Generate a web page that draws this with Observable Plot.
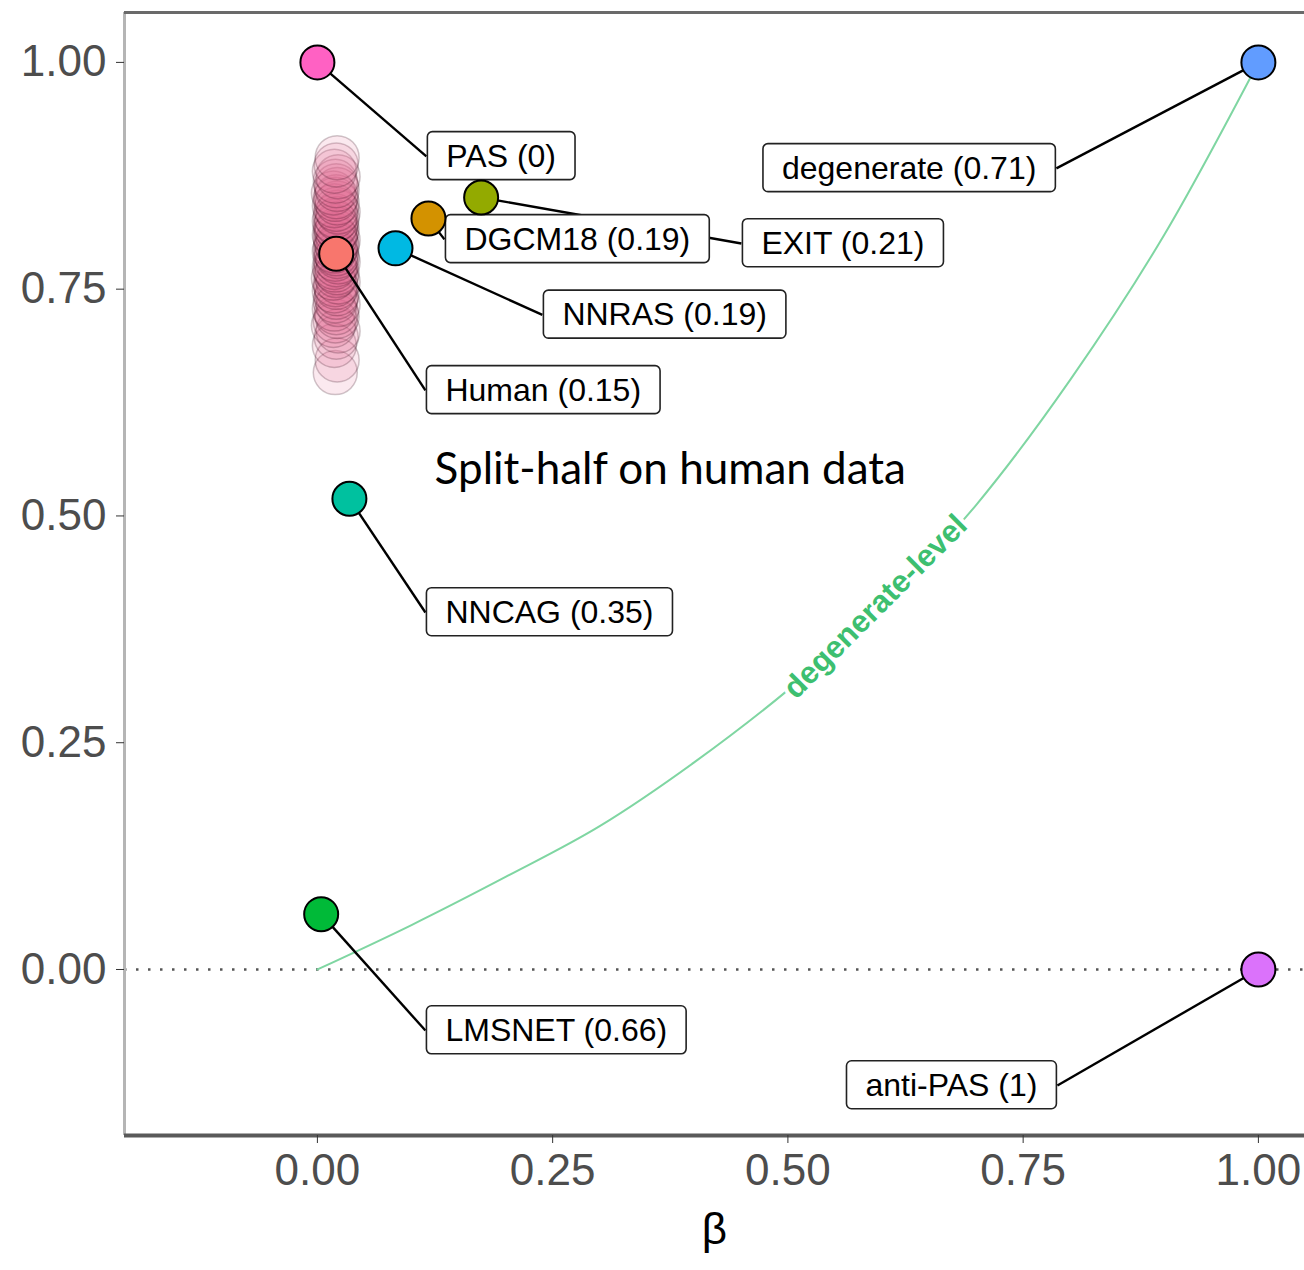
<!DOCTYPE html>
<html><head><meta charset="utf-8">
<script src="https://cdn.jsdelivr.net/npm/d3@7"></script>
<script src="https://cdn.jsdelivr.net/npm/@observablehq/plot@0.6"></script>
<style>
html,body{margin:0;padding:0;background:#fff;overflow:hidden}
</style></head><body><div id="chart"></div>
<script>
// ---- data ----
const models   = ["PAS","degenerate","anti-PAS","LMSNET","NNCAG","Human","NNRAS","DGCM18","EXIT"];
const scores   = ["0","0.71","1","0.66","0.35","0.15","0.19","0.19","0.21"];
const betaVals = [0, 1, 1, 0.004, 0.034, 0.020, 0.083, 0.118, 0.174];
const yVals    = [1, 1, 0, 0.061, 0.519, 0.789, 0.795, 0.828, 0.851];
const colors   = ["#FF61C3","#619CFF","#DB72FB","#00BA38","#00C19F","#F8766D","#00B9E3","#D39200","#93AA00"];
// label anchor (edge of label box, data units) from the repelled layout
const labelX   = [0.1158, 0.7853, 0.7864, 0.1148, 0.1148, 0.1148, 0.2391, 0.1350, 0.4506];
const labelY   = [0.8964, 0.8831, -0.1279, -0.0673, 0.3936, 0.6384, 0.7216, 0.8049, 0.8004];
const labelSide= ["left","right","right","left","left","left","left","left","left"];

// split-half bootstrap on human data
const splitBeta = [0.019,0.021,0.018,0.020,0.022,0.017,0.019,0.021,0.020,0.018,0.022,0.019,0.020,0.021,0.018,0.020,0.019,0.022,0.017,0.020,0.021,0.019,0.018,0.020,0.022,0.019,0.021,0.020,0.018,0.019,0.021,0.020,0.022,0.019,0.018,0.020,0.021,0.019,0.020,0.018,0.021,0.019,0.022,0.020,0.018,0.021,0.019,0.020,0.017,0.021,0.020,0.019,0.022,0.018,0.020,0.021];
const splitY    = [0.658,0.672,0.688,0.697,0.704,0.710,0.715,0.720,0.724,0.728,0.733,0.737,0.741,0.745,0.748,0.752,0.755,0.758,0.762,0.765,0.768,0.771,0.774,0.777,0.780,0.783,0.786,0.789,0.792,0.795,0.798,0.801,0.804,0.807,0.810,0.813,0.816,0.819,0.822,0.825,0.828,0.831,0.835,0.838,0.842,0.845,0.849,0.852,0.856,0.860,0.864,0.869,0.874,0.880,0.887,0.895];

// degenerate-level curve
const curveBeta  = [0, 0.1, 0.2, 0.3, 0.4, 0.5, 0.6, 0.7, 0.8, 0.9, 1.0];
const curveLevel = [0, 0.049, 0.102, 0.158, 0.228, 0.308, 0.400, 0.512, 0.650, 0.810, 1.0];

const xTicks = [0, 0.25, 0.5, 0.75, 1];
const yTicks = [0, 0.25, 0.5, 0.75, 1];
const xDomain = [-0.205, 1.049];
const yDomain = [-0.183, 1.055];

// ---- tables ----
const points = models.map((m, i) => ({
  model: m, beta: betaVals[i], y: yVals[i], color: colors[i],
  label: `${m} (${scores[i]})`, lx: labelX[i], ly: labelY[i], side: labelSide[i]
}));
const split = splitY.map((v, i) => ({beta: splitBeta[i], y: v}));
const curve = curveBeta.map((b, i) => ({beta: b, level: curveLevel[i]}));

const chart = Plot.plot({
  width: 1304, height: 1270,
  marginLeft: 124, marginRight: 0, marginTop: 12, marginBottom: 135,
  style: {fontFamily: "'Liberation Sans', Arial, sans-serif", background: "#fff", overflow: "visible"},
  x: {domain: xDomain},
  y: {domain: yDomain},
  color: {type: "identity"},
  marks: [
    Plot.ruleY([0], {stroke: "#555", strokeWidth: 2.5, strokeDasharray: "2.5,9.5"}),
    Plot.line(curve, {x: "beta", y: "level", stroke: "#7fd6a2", strokeWidth: 2, curve: "monotone-x"}),
    Plot.text(["degenerate-level"], {x: () => 0.593, y: () => 0.400, text: d => d, rotate: -45,
      fill: "#3dbf70", stroke: "white", strokeWidth: 8, fontWeight: "bold", fontSize: 31}),
    Plot.dot(split, {x: "beta", y: "y", r: 22, fill: "#e0608f", fillOpacity: 0.14,
      stroke: "#2a0010", strokeOpacity: 0.22, strokeWidth: 1.5}),
    Plot.link(points, {x1: "beta", y1: "y", x2: "lx", y2: "ly", stroke: "black", strokeWidth: 2.4}),
    Plot.text(points.filter(d => d.side === "left"), {x: "lx", y: "ly", text: "label", textAnchor: "start",
      dx: 20, fontSize: 32, fill: "black", ariaDescription: "label-left"}),
    Plot.text(points.filter(d => d.side === "right"), {x: "lx", y: "ly", text: "label", textAnchor: "end",
      dx: -20, fontSize: 32, fill: "black", ariaDescription: "label-right"}),
    Plot.dot(points, {x: "beta", y: "y", r: 17, fill: "color", stroke: "black", strokeWidth: 2}),
    Plot.text(["Split-half on human data"], {x: () => 0.375, y: () => 0.551, text: d => d,
      fontSize: 44, fontFamily: "Lato, 'Noto Sans', sans-serif", fill: "black"}),
    Plot.ruleX([xDomain[0]], {stroke: "#b5b5b5", strokeWidth: 3}),
    Plot.ruleY([yDomain[1]], {stroke: "#6a6a6a", strokeWidth: 3}),
    Plot.ruleY([yDomain[0]], {stroke: "#5a5a5a", strokeWidth: 4}),
    Plot.axisX({ticks: xTicks, tickFormat: ".2f", tickSize: 8, tickPadding: 10, fontSize: 44,
      color: "#4d4d4d", stroke: "#333", label: null}),
    Plot.axisY({ticks: yTicks, tickFormat: ".2f", tickSize: 8, tickPadding: 10, fontSize: 44,
      color: "#4d4d4d", stroke: "#333", label: null}),
    Plot.text(["β"], {frameAnchor: "bottom", text: d => d, dy: 108, fontSize: 44, fill: "black"})
  ]
});
document.getElementById("chart").append(chart);

// label boxes (ggrepel-style rounded rectangles behind label text)
const pad = 19, boxH = 48;
const labelTexts = chart.querySelectorAll('g[aria-description="label-left"] text, g[aria-description="label-right"] text');
labelTexts.forEach(t => {
  const bb = t.getBBox();
  const r = document.createElementNS("http://www.w3.org/2000/svg", "rect");
  r.setAttribute("x", bb.x - pad);
  r.setAttribute("y", bb.y + bb.height / 2 - boxH / 2);
  r.setAttribute("width", bb.width + 2 * pad);
  r.setAttribute("height", boxH);
  r.setAttribute("rx", 5);
  r.setAttribute("fill", "white");
  r.setAttribute("stroke", "#222");
  r.setAttribute("stroke-width", 1.6);
  if (t.getAttribute("transform")) r.setAttribute("transform", t.getAttribute("transform"));
  t.parentNode.insertBefore(r, t);
});
</script></body></html>
